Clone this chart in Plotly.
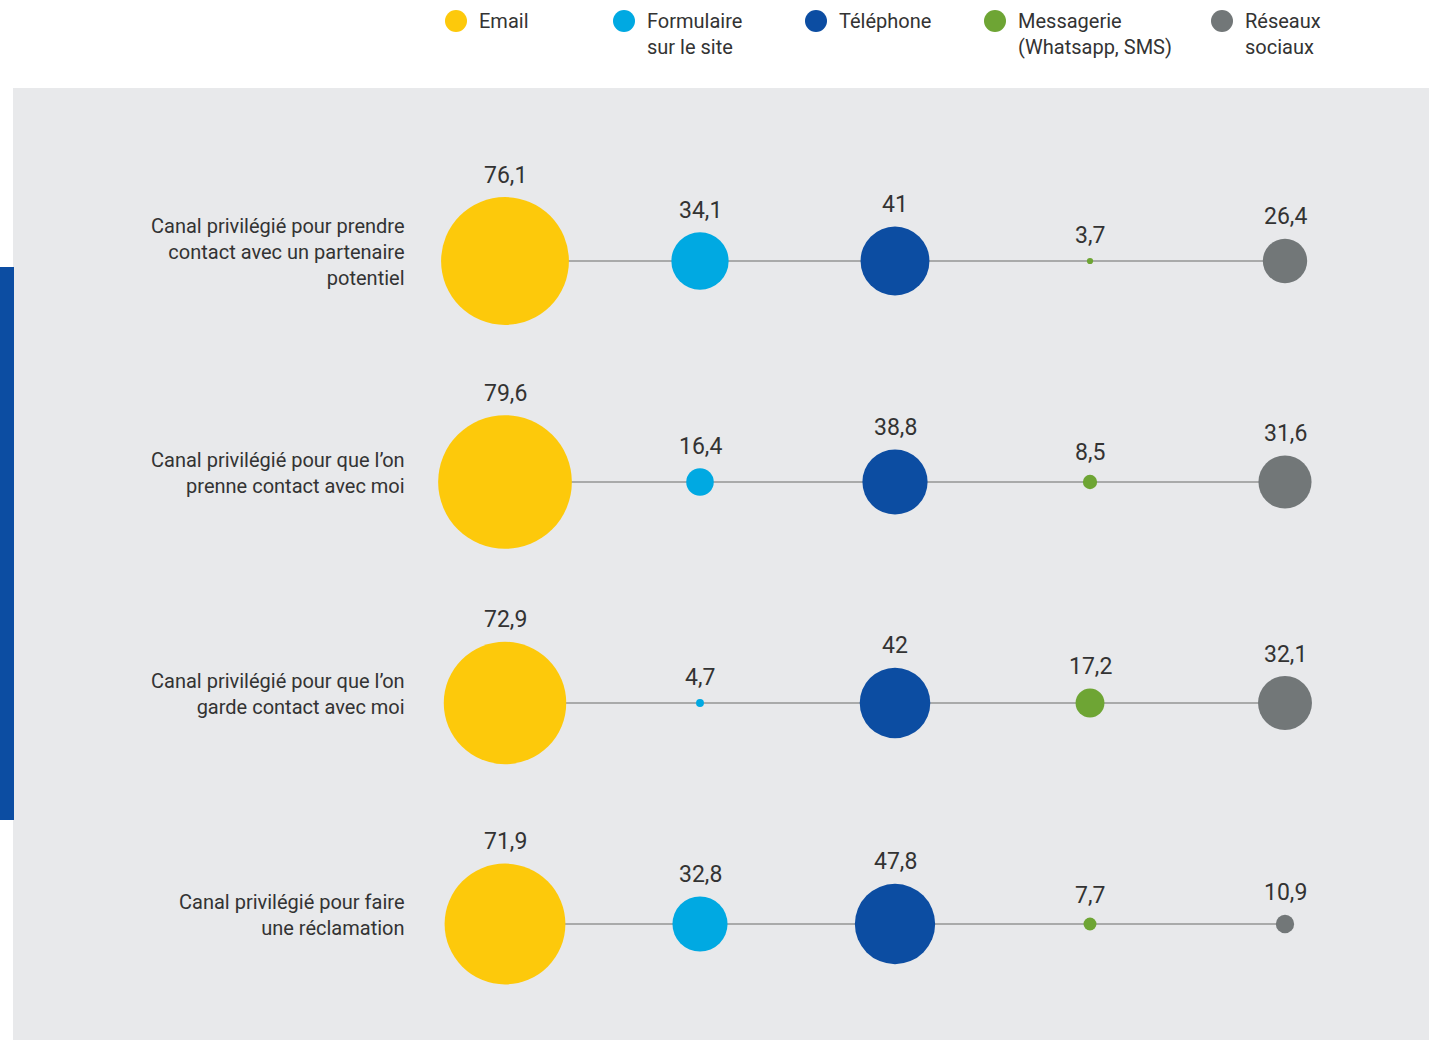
import plotly.graph_objects as go

channels = ["Email", "Formulaire<br>sur le site", "Téléphone", "Messagerie<br>(Whatsapp, SMS)", "Réseaux<br>sociaux"]
rows = [
    "Canal privilégié pour prendre<br>contact avec un partenaire<br>potentiel",
    "Canal privilégié pour que l’on<br>prenne contact avec moi",
    "Canal privilégié pour que l’on<br>garde contact avec moi",
    "Canal privilégié pour faire<br>une réclamation",
]
email = [76.1, 79.6, 72.9, 71.9]
formulaire = [34.1, 16.4, 4.7, 32.8]
telephone = [41, 38.8, 42, 47.8]
messagerie = [3.7, 8.5, 17.2, 7.7]
reseaux = [26.4, 31.6, 32.1, 10.9]

series = [email, formulaire, telephone, messagerie, reseaux]
colors = ["#FDC90B", "#00A9E2", "#0C4DA2", "#6EA534", "#727778"]

W, H = 1429, 1040
K = 1.68  # px diameter per percentage point
FONT = "Roboto"
TXT = "#333333"

# pixel layout helpers
x_px0, x_step = 505, 195
y_px0, y_step = 261, 221
xr = [-x_px0 / x_step, (W - x_px0) / x_step]
yr = [(H - y_px0) / y_step, -y_px0 / y_step]

fig = go.Figure()

# connecting lines
for i in range(len(rows)):
    fig.add_trace(go.Scatter(x=[0, len(channels) - 1], y=[i, i], mode="lines",
                             line=dict(color="#959595", width=1.5),
                             hoverinfo="skip", showlegend=False))

annotations = []
for j, (vals, col) in enumerate(zip(series, colors)):
    fig.add_trace(go.Scatter(
        x=[j] * len(vals), y=list(range(len(vals))), mode="markers",
        marker=dict(size=[v * K for v in vals], sizemode="diameter", color=col,
                    line=dict(width=0), opacity=1),
        hoverinfo="skip", showlegend=False))
    for i, v in enumerate(vals):
        annotations.append(dict(
            x=j, y=i, xref="x", yref="y", text=f"{v:g}".replace(".", ","),
            showarrow=False, yanchor="middle", xanchor="center",
            yshift=v * K / 2 + 22,
            font=dict(family=FONT, size=23, color=TXT)))

for i, r in enumerate(rows):
    annotations.append(dict(
        x=407 / W, xref="paper", y=i, yref="y", text=r, showarrow=False,
        xanchor="right", align="right", yanchor="middle", yshift=9,
        font=dict(family=FONT, size=20, color=TXT)))

# legend
leg_x = [456, 624, 816, 995, 1222]
shapes = [
    dict(type="rect", xref="paper", yref="paper", x0=13 / W, x1=1, y0=0, y1=1 - 88 / H,
         fillcolor="#E8E9EB", line=dict(width=0), layer="below"),
    dict(type="rect", xref="paper", yref="paper", x0=0, x1=14 / W, y0=1 - 820 / H, y1=1 - 267 / H,
         fillcolor="#0C4DA2", line=dict(width=0), layer="below"),
]
for lx, name, col in zip(leg_x, channels, colors):
    shapes.append(dict(type="circle", xref="paper", yref="paper",
                       x0=(lx - 11) / W, x1=(lx + 11) / W,
                       y0=1 - 32 / H, y1=1 - 10 / H,
                       fillcolor=col, line=dict(width=0)))
    annotations.append(dict(
        x=(lx + 21) / W, xref="paper", y=1 - 7 / H, yref="paper", text=name,
        showarrow=False, xanchor="left", yanchor="top", align="left",
        font=dict(family=FONT, size=20, color=TXT)))

fig.update_layout(
    width=W, height=H, margin=dict(l=0, r=0, t=0, b=0),
    paper_bgcolor="white", plot_bgcolor="rgba(0,0,0,0)",
    xaxis=dict(range=xr, visible=False, fixedrange=True),
    yaxis=dict(range=yr, visible=False, fixedrange=True),
    shapes=shapes, annotations=annotations, showlegend=False,
)

fig.write_html("out.html")
